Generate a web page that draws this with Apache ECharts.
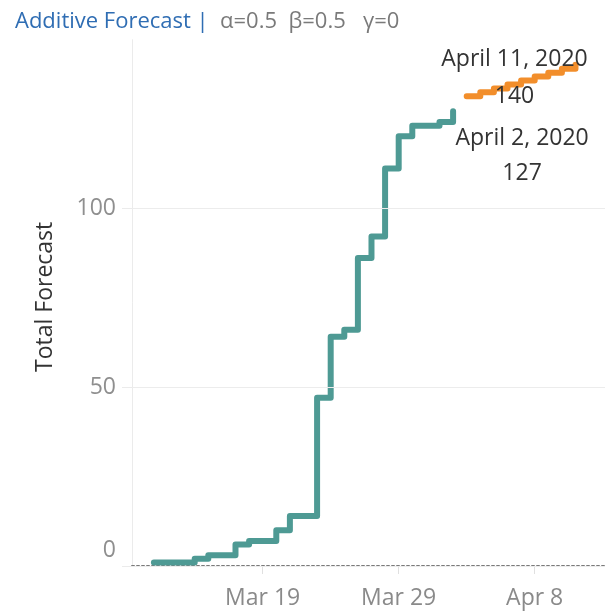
<!DOCTYPE html>
<html><head><meta charset="utf-8">
<script src="https://cdn.jsdelivr.net/npm/echarts@6/dist/echarts.min.js"></script>
<style>html,body{margin:0;padding:0;background:#fff}#c{width:610px;height:613px}</style>
</head><body><div id="c"></div>
<script>
// ---- data ----
const actualDates = ['2020-03-11','2020-03-12','2020-03-13','2020-03-14','2020-03-15','2020-03-16','2020-03-17','2020-03-18','2020-03-19','2020-03-20','2020-03-21','2020-03-22','2020-03-23','2020-03-24','2020-03-25','2020-03-26','2020-03-27','2020-03-28','2020-03-29','2020-03-30','2020-03-31','2020-04-01','2020-04-02'];
const actualValues = [1,1,1,2,3,3,6,7,7,10,14,14,47,64,66,86,92,111,120,123,123,124,127];
const forecastDates = ['2020-04-03','2020-04-04','2020-04-05','2020-04-06','2020-04-07','2020-04-08','2020-04-09','2020-04-10','2020-04-11'];
const forecastValues = [131.2,132.3,133.4,134.5,135.6,136.7,137.8,138.9,140.0];
const yTickValues = [0,50,100];
const xTickDates = ['2020-03-19','2020-03-29','2020-04-08'];
const xTickLabels = ['Mar 19','Mar 29','Apr 8'];
const titleMain = 'Additive Forecast |';
const titleParams = 'α=0.5  β=0.5   γ=0';
const yAxisName = 'Total Forecast';

// ---- helpers ----
const BASE = Date.UTC(2020,2,9);
const dayNum = s => { const p = s.split('-').map(Number); return (Date.UTC(p[0],p[1]-1,p[2]) - BASE) / 86400000; };
const MONTHS = ['January','February','March','April','May','June','July','August','September','October','November','December'];
const longDate = s => { const p = s.split('-').map(Number); return MONTHS[p[1]-1] + ' ' + p[2] + ', ' + p[0]; };
const FONT = 'Open Sans';

const actualData = actualDates.map((d,i) => [dayNum(d), actualValues[i]]);
const forecastData = forecastDates.map((d,i) => [dayNum(d), forecastValues[i]]);
const xTickNums = xTickDates.map(dayNum);
const lastA = actualData[actualData.length-1];
const lastF = forecastData[forecastData.length-1];

const chart = echarts.init(document.getElementById('c'), null, {renderer:'canvas'});
chart.setOption({
  animation: false,
  title: {
    left: 10, top: 6,
    text: '{a|' + titleMain + '}{b|  ' + titleParams + '}',
    textStyle: { fontWeight: 'normal', rich: {
      a: { color: '#2f6db3', fontSize: 22, fontFamily: FONT, fontWeight: 'normal' },
      b: { color: '#7a7a7a', fontSize: 22, fontFamily: FONT, fontWeight: 'normal' }
    } }
  },
  grid: { left: 132, right: 5, top: 39.7, bottom: 47 },
  xAxis: {
    type: 'value', min: 0.39, max: 35.17,
    axisLine: { show: true, lineStyle: { color: '#7a7a7a', width: 2, type: [2,3] } },
    axisTick: { show: true, customValues: xTickNums, length: 8, lineStyle: { color: '#e0e0e0' } },
    axisLabel: {
      customValues: xTickNums, margin: 21,
      formatter: v => xTickLabels[xTickNums.indexOf(v)] || '',
      color: '#8a8a8a', fontSize: 23, fontFamily: FONT
    },
    splitLine: { show: false }
  },
  yAxis: {
    type: 'value', min: 0, max: 147,
    name: yAxisName, nameLocation: 'middle', nameGap: 75,
    nameTextStyle: { color: '#333', fontSize: 23, fontFamily: FONT, padding: [0, 0, 0, 12] },
    axisLine: { show: true, lineStyle: { color: '#ebebeb' } },
    axisTick: { show: true, customValues: yTickValues, length: 10, lineStyle: { color: '#ebebeb' } },
    axisLabel: {
      customValues: yTickValues, margin: 16,
      formatter: v => v === 0 ? '{z|0}' : String(v),
      color: '#8f8f8f', fontSize: 23, fontFamily: FONT,
      rich: { z: { color: '#8f8f8f', fontSize: 23, fontFamily: FONT, padding: [0,0,32,0] } }
    },
    splitLine: { show: false }
  },
  series: [
    {
      type: 'line', step: 'end', data: actualData, showSymbol: false,
      lineStyle: { color: '#4e9a94', width: 6, cap: 'round', join: 'round' },
      z: 3,
      markLine: {
        silent: true, symbol: 'none', label: { show: false },
        lineStyle: { color: '#ececec', width: 1, type: 'solid' },
        data: yTickValues.map(v => ({ yAxis: v }))
      },
      markPoint: {
        symbol: 'circle', symbolSize: 1, itemStyle: { color: 'rgba(0,0,0,0)' },
        data: [{ coord: lastA, value: lastA[1] }],
        label: {
          show: true, position: 'inside', offset: [69, 45],
          formatter: () => longDate(actualDates[actualDates.length-1]) + '\n' + Math.round(lastA[1]),
          color: '#333', fontSize: 23, fontFamily: FONT, lineHeight: 35, align: 'center'
        }
      }
    },
    {
      type: 'line', step: 'end', data: forecastData, showSymbol: false,
      lineStyle: { color: '#f28e2b', width: 6, cap: 'round', join: 'round' },
      z: 3,
      markPoint: {
        symbol: 'circle', symbolSize: 1, itemStyle: { color: 'rgba(0,0,0,0)' },
        data: [{ coord: lastF, value: lastF[1] }],
        label: {
          show: true, position: 'inside', offset: [-61, 13],
          formatter: () => longDate(forecastDates[forecastDates.length-1]) + '\n' + Math.round(lastF[1]),
          color: '#333', fontSize: 23, fontFamily: FONT, lineHeight: 37, align: 'center'
        }
      }
    }
  ]
});
</script>
</body></html>
